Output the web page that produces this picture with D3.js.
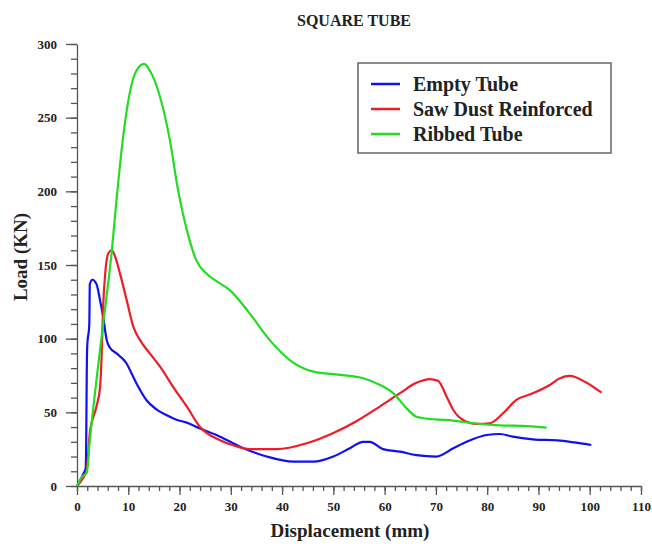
<!DOCTYPE html>
<html>
<head>
<meta charset="utf-8">
<script src="https://cdn.jsdelivr.net/npm/d3@7"></script>
<style>
  body { margin: 0; background: #fff; }
  text { font-family: "Liberation Serif", "Times New Roman", serif; font-weight: bold; fill: #222; }
  .domain, .tick line { stroke: #555; stroke-width: 1.3; }
</style>
</head>
<body>
<div id="chart"></div>
<script>
// datos
let series = ["Empty Tube", "Saw Dust Reinforced", "Ribbed Tube"];
let colores = ["#1010f0", "#ee1c24", "#22dd22"];

let emptyX = [0, 1.2, 1.7, 1.8, 1.9, 2.0, 2.4, 2.5, 3.0, 3.8, 4.5, 5.1, 5.8, 6.4, 7.7, 9.7, 10.7, 12.0, 13.6, 15.5, 18.1, 19.4, 21.4, 24, 27.9, 31.8, 37, 42.2, 46.1, 50, 53.2, 55.8, 57.1, 59.7, 63, 66.2, 70.1, 73.4, 76, 79.9, 82.5, 85, 88.9, 94.2, 97.4, 100.3];
let emptyY = [0, 8, 12, 31, 76, 95, 110, 137, 140, 137, 126, 115, 99, 94, 90, 83, 76, 67, 58, 52, 47, 45, 43, 39, 33.5, 26.7, 20, 16.5, 16.5, 20, 25.6, 30, 30, 25, 23.3, 21, 20, 25.6, 30, 34.6, 35.3, 33.5, 31.7, 30.8, 29.4, 27.8];

let sawX = [0, 0.9, 1.9, 2.5, 3.8, 4.5, 4.8, 5.1, 5.5, 6.1, 6.8, 7.4, 8.4, 9.7, 11, 12.3, 14.2, 16.2, 18.8, 21.4, 24, 27.9, 31, 33.7, 38.9, 44.8, 50, 54.5, 59.1, 63, 66.2, 68.8, 70.4, 72.1, 73.4, 75.3, 77.9, 80.5, 83.1, 85.7, 88.9, 92.2, 94.2, 96.1, 99.4, 102.3];
let sawY = [0, 4, 11, 36, 54, 67, 88, 122, 144, 158, 160, 156, 144, 126, 108, 99, 90, 81, 67, 54, 40, 31, 27, 25, 25, 29, 36, 44, 54, 63, 70, 72.6, 71.5, 60.6, 51.6, 44.8, 42.1, 42.6, 49.4, 58.4, 62.9, 68.6, 73.1, 74.7, 70.1, 63.3];

let ribX = [0, 0.9, 1.9, 2.5, 3.8, 5.1, 6.8, 7.7, 9.0, 10.3, 11.6, 13.1, 14.2, 16.2, 18.1, 19.7, 21.4, 23.3, 25.3, 27.2, 29.8, 33.7, 37.6, 41.5, 46.1, 51.3, 55.8, 59.1, 61.7, 64.3, 66.2, 69.5, 73.4, 77.3, 82.5, 87.7, 91.6];
let ribY = [0, 6, 9, 31, 72, 110, 160, 194, 237, 267, 282, 286.5, 282, 264, 235, 201, 174, 153, 144, 139, 133, 117, 99, 85.5, 77.6, 75.4, 73.1, 68.6, 62.9, 52.7, 47, 45.3, 44.4, 42.6, 41.2, 40.7, 39.6];

let xTicks = [0, 10, 20, 30, 40, 50, 60, 70, 80, 90, 100, 110];
let yTicks = [0, 50, 100, 150, 200, 250, 300];

let datos = [
  emptyX.map((v, i) => ({ x: v, y: emptyY[i] })),
  sawX.map((v, i) => ({ x: v, y: sawY[i] })),
  ribX.map((v, i) => ({ x: v, y: ribY[i] })),
];

let margin = { top: 44, right: 11, bottom: 60, left: 77 };
let width = 652 - margin.left - margin.right;
let height = 546 - margin.top - margin.bottom;

let svg = d3
  .select("#chart")
  .append("svg")
  .attr("width", 652)
  .attr("height", 546)
  .append("g")
  .attr("transform", "translate(" + margin.left + "," + margin.top + ")");

let x = d3.scaleLinear().domain([0, 110]).range([0, width]);
let y = d3.scaleLinear().domain([0, 300]).range([height, 0]);

// eje x: menores y mayores
svg
  .append("g")
  .attr("transform", "translate(0," + height + ")")
  .call(d3.axisBottom(x).tickValues(d3.range(0, 111, 2)).tickSize(5).tickFormat(""))
  .select(".domain").remove();
svg
  .append("g")
  .attr("class", "eje-x")
  .attr("transform", "translate(0," + height + ")")
  .call(d3.axisBottom(x).tickValues(xTicks).tickSizeInner(9).tickSizeOuter(0).tickPadding(7))
  .selectAll("text")
  .attr("font-size", "13px");

// eje y
svg
  .append("g")
  .call(d3.axisLeft(y).tickValues(d3.range(0, 301, 10)).tickSize(6).tickFormat(""))
  .select(".domain").remove();
svg
  .append("g")
  .attr("class", "eje-y")
  .call(d3.axisLeft(y).tickValues(yTicks).tickSizeInner(11).tickSizeOuter(0).tickPadding(9))
  .selectAll("text")
  .attr("font-size", "13px");

svg.selectAll(".tick text").style("font-family", '"Liberation Serif", serif').style("font-weight", "bold").attr("fill", "#222");

// curvas
let linea = d3
  .line()
  .x((d) => x(d.x))
  .y((d) => y(d.y))
  .curve(d3.curveMonotoneX);

svg
  .selectAll("path.curva")
  .data(datos)
  .enter()
  .append("path")
  .attr("class", "curva")
  .attr("d", linea)
  .attr("fill", "none")
  .attr("stroke", (d, i) => colores[i])
  .attr("stroke-width", 2.2)
  .attr("stroke-linejoin", "round");

// titulos
svg
  .append("text")
  .attr("x", width / 2 - 5)
  .attr("y", -18)
  .attr("text-anchor", "middle")
  .attr("font-size", "16px")
  .text("SQUARE TUBE");

svg
  .append("text")
  .attr("x", width / 2 - 9)
  .attr("y", height + 51)
  .attr("text-anchor", "middle")
  .attr("font-size", "19px")
  .text("Displacement (mm)");

svg
  .append("text")
  .attr("transform", "translate(-50," + (y(150) - 8) + ") rotate(-90)")
  .attr("text-anchor", "middle")
  .attr("font-size", "19px")
  .text("Load (KN)");

// leyenda
let leyenda = svg.append("g").attr("transform", "translate(281,19)");
leyenda
  .append("rect")
  .attr("width", 253)
  .attr("height", 90)
  .attr("fill", "#fff")
  .attr("stroke", "#666")
  .attr("stroke-width", 1.5);

series.forEach((s, i) => {
  leyenda
    .append("line")
    .attr("x1", 13)
    .attr("x2", 42)
    .attr("y1", 21 + i * 25)
    .attr("y2", 21 + i * 25)
    .attr("stroke", colores[i])
    .attr("stroke-width", 2.5);
  leyenda
    .append("text")
    .attr("x", 55)
    .attr("y", 21 + i * 25)
    .attr("dy", "0.35em")
    .attr("font-size", "20px")
    .text(s);
});
</script>
</body>
</html>
